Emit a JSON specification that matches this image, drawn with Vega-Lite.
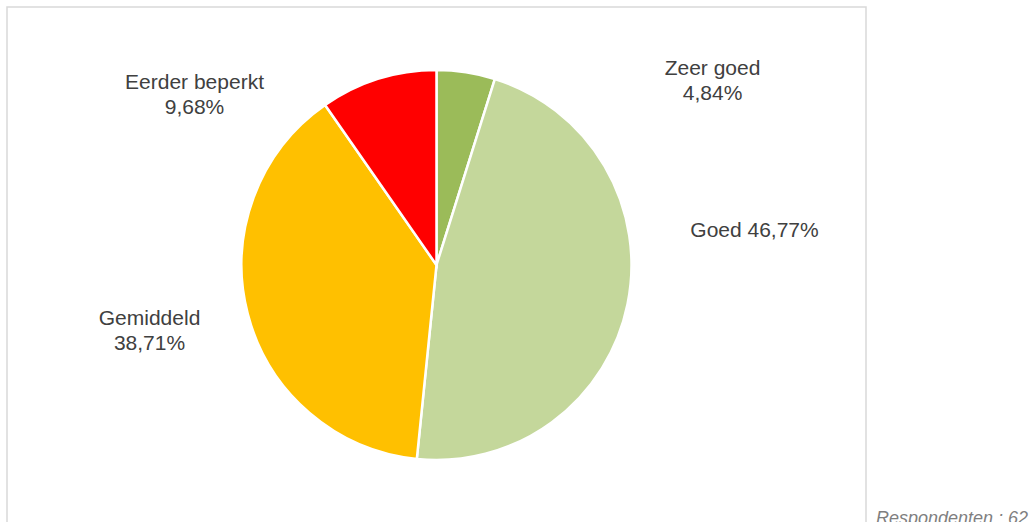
{
  "$schema": "https://vega.github.io/schema/vega-lite/v6.json",
  "width": 859,
  "height": 516,
  "autosize": {"type": "none"},
  "padding": {"left": 7, "top": 7, "right": 170, "bottom": 0},
  "background": "white",
  "config": {
    "view": {"stroke": null},
    "text": {"font": "Liberation Sans"}
  },
  "title": {
    "text": "Respondenten : 62.",
    "orient": "bottom",
    "anchor": "end",
    "frame": "group",
    "align": "left",
    "baseline": "alphabetic",
    "offset": 0,
    "dx": 10,
    "font": "Liberation Sans",
    "fontSize": 18,
    "fontStyle": "italic",
    "fontWeight": "normal",
    "color": "#7F7F7F"
  },
  "data": {
    "values": [
      {"categorie": "Zeer goed", "waarde": 4.84, "volgorde": 1, "label": "Zeer goed\n4,84%"},
      {"categorie": "Goed", "waarde": 46.77, "volgorde": 2, "label": "Goed 46,77%"},
      {"categorie": "Gemiddeld", "waarde": 38.71, "volgorde": 3, "label": "Gemiddeld\n38,71%"},
      {"categorie": "Eerder beperkt", "waarde": 9.68, "volgorde": 4, "label": "Eerder beperkt\n9,68%"}
    ]
  },
  "layer": [
    {
      "data": {"values": [{"kader": "rand"}]},
      "mark": {"type": "rect", "fill": null, "stroke": "#D9D9D9", "strokeWidth": 1.5},
      "encoding": {
        "x": {"value": 0},
        "x2": {"value": "width"},
        "y": {"value": 0},
        "y2": {"value": "height"}
      }
    },
    {
      "mark": {"type": "arc", "outerRadius": 195, "stroke": "white", "strokeWidth": 2.5},
      "encoding": {
        "theta": {"field": "waarde", "type": "quantitative", "stack": true},
        "order": {"field": "volgorde", "type": "quantitative", "sort": "ascending"},
        "color": {
          "field": "categorie",
          "type": "nominal",
          "scale": {
            "domain": ["Zeer goed", "Goed", "Gemiddeld", "Eerder beperkt"],
            "range": ["#9BBB59", "#C4D79B", "#FFC000", "#FF0000"]
          },
          "legend": null
        }
      }
    },
    {
      "mark": {"type": "text", "radius": 195, "dx": 246.5, "dy": -2.75, "align": "center", "baseline": "middle", "lineBreak": "\n", "lineHeight": 25, "fontSize": 21, "fill": "#404040"},
      "encoding": {
        "theta": {"field": "waarde", "type": "quantitative", "stack": true},
        "order": {"field": "volgorde", "type": "quantitative", "sort": "ascending"},
        "text": {"condition": {"test": "datum.categorie === 'Zeer goed'", "field": "label", "type": "nominal"}, "value": ""}
      }
    },
    {
      "mark": {"type": "text", "radius": 195, "dx": 127, "dy": -73.2, "align": "center", "baseline": "middle", "lineBreak": "\n", "lineHeight": 25, "fontSize": 21, "fill": "#404040"},
      "encoding": {
        "theta": {"field": "waarde", "type": "quantitative", "stack": true},
        "order": {"field": "volgorde", "type": "quantitative", "sort": "ascending"},
        "text": {"condition": {"test": "datum.categorie === 'Goed'", "field": "label", "type": "nominal"}, "value": ""}
      }
    },
    {
      "mark": {"type": "text", "radius": 195, "dx": -98.2, "dy": 4.6, "align": "center", "baseline": "middle", "lineBreak": "\n", "lineHeight": 25, "fontSize": 21, "fill": "#404040"},
      "encoding": {
        "theta": {"field": "waarde", "type": "quantitative", "stack": true},
        "order": {"field": "volgorde", "type": "quantitative", "sort": "ascending"},
        "text": {"condition": {"test": "datum.categorie === 'Gemiddeld'", "field": "label", "type": "nominal"}, "value": ""}
      }
    },
    {
      "mark": {"type": "text", "radius": 195, "dx": -183.6, "dy": 4.1, "align": "center", "baseline": "middle", "lineBreak": "\n", "lineHeight": 25, "fontSize": 21, "fill": "#404040"},
      "encoding": {
        "theta": {"field": "waarde", "type": "quantitative", "stack": true},
        "order": {"field": "volgorde", "type": "quantitative", "sort": "ascending"},
        "text": {"condition": {"test": "datum.categorie === 'Eerder beperkt'", "field": "label", "type": "nominal"}, "value": ""}
      }
    }
  ]
}
